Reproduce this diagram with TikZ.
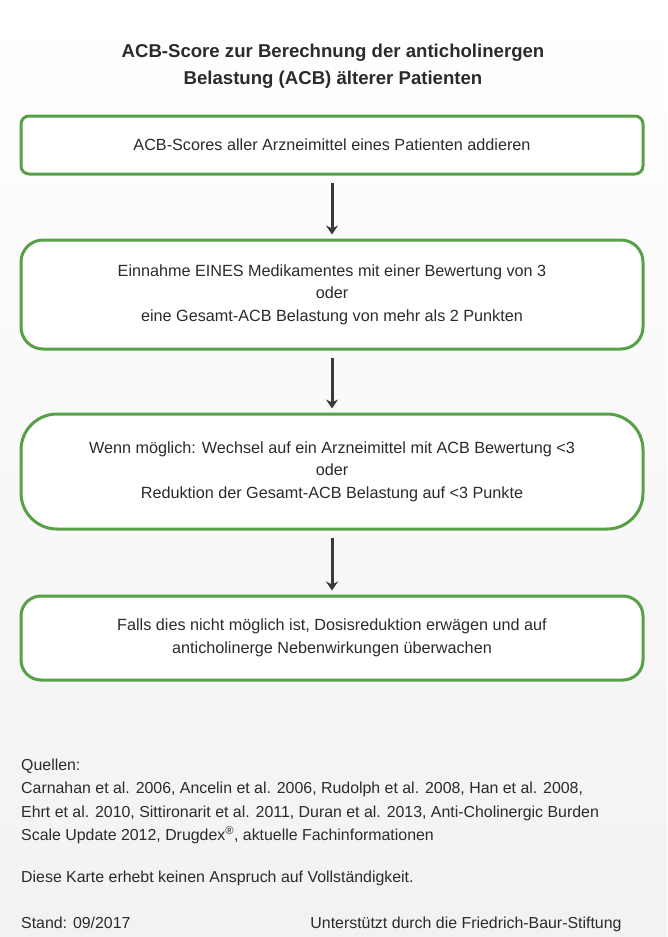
\documentclass[tikz,border=0pt]{standalone}
\usepackage{fontspec}
\setmainfont{Liberation Sans}
\usetikzlibrary{arrows.meta, positioning}
\definecolor{acbbg}{HTML}{F2F2F2}
\definecolor{acbtext}{HTML}{2B2B2B}
\definecolor{acbgreen}{HTML}{58A048}
\definecolor{acbarrow}{HTML}{3A3A3A}
\tikzset{
  schritt/.style={rectangle, draw=acbgreen, line width=3pt, fill=white,
              text=acbtext, align=center, minimum width=622pt,
              font=\fontsize{16.2}{22.5}\selectfont},
  pfeil/.style={-{Stealth[length=9pt, width=12pt, inset=3pt]}, draw=acbarrow,
              line width=3pt},
  quelle/.style={anchor=north west, align=left, text=acbtext, inner sep=0pt,
              font=\fontsize{15.9}{23.2}\selectfont},
}
\begin{document}
\begin{tikzpicture}[x=1pt, y=-1pt]
  \useasboundingbox (0,0) rectangle (667,937);
  \shade[top color=white, bottom color=acbbg] (0,0) rectangle (667,937);
  \node[text=acbtext, align=center, font=\fontsize{18.6}{27}\selectfont\bfseries]
    (titel) at (333,66) {ACB-Score zur Berechnung der anticholinergen\\Belastung (ACB) älterer Patienten};
  \node[schritt, rounded corners=8pt, minimum height=58pt] (addieren) at (332,145)
    {ACB-Scores aller Arzneimittel eines Patienten addieren};
  \node[schritt, rounded corners=22pt, minimum height=109pt, below=63pt of addieren] (bewertung)
    {Einnahme EINES Medikamentes mit einer Bewertung von 3\\oder\\eine Gesamt-ACB Belastung von mehr als 2 Punkten};
  \node[schritt, rounded corners=36pt, minimum height=115pt, below=62pt of bewertung] (wechsel)
    {Wenn möglich: Wechsel auf ein Arzneimittel mit ACB Bewertung <3\\oder\\Reduktion der Gesamt-ACB Belastung auf <3 Punkte};
  \node[schritt, rounded corners=20pt, minimum height=84pt, below=64pt of wechsel] (dosis)
    {Falls dies nicht möglich ist, Dosisreduktion erwägen und auf\\anticholinerge Nebenwirkungen überwachen};
  \draw[pfeil, shorten <=7pt, shorten >=4pt] (addieren) -- (bewertung);
  \draw[pfeil, shorten <=7pt, shorten >=4pt] (bewertung) -- (wechsel);
  \draw[pfeil, shorten <=7pt, shorten >=4pt] (wechsel) -- (dosis);
  \node[quelle] (quellen) at (21,759)
    {Quellen:\\Carnahan et al. 2006, Ancelin et al. 2006, Rudolph et al. 2008, Han et al. 2008,\\Ehrt et al. 2010, Sittironarit et al. 2011, Duran et al. 2013, Anti-Cholinergic Burden\\Scale Update 2012, Drugdex\textsuperscript{®}, aktuelle Fachinformationen};
  \node[quelle] (karte) at (21,871) {Diese Karte erhebt keinen Anspruch auf Vollständigkeit.};
  \node[quelle] (stand) at (21,917) {Stand: 09/2017};
  \node[quelle, anchor=north] (stiftung) at (466,917) {Unterstützt durch die Friedrich-Baur-Stiftung};
\end{tikzpicture}
\end{document}
